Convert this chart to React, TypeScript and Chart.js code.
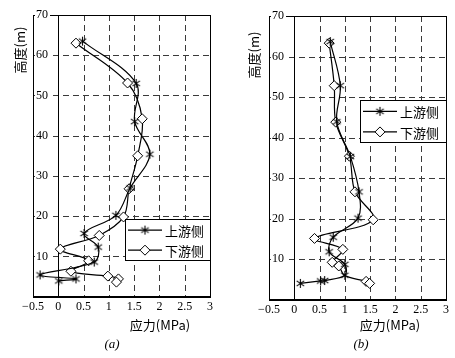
import React, { useEffect, useRef } from "react";
import { Chart, registerables } from "chart.js";

Chart.register(...registerables);

// ---- data ----
const heightTicks = [10, 20, 30, 40, 50, 60, 70];
const stressTicks = [-0.5, 0, 0.5, 1, 1.5, 2, 2.5, 3];
const seriesLabels = ["上游侧", "下游侧"];
const yTitle = "高度(m)";
const xTitle = "应力(MPa)";
const captions = ["(a)", "(b)"];

// panel (a)
const upA_stress = [0.48, 1.54, 1.51, 1.81, 1.42, 1.14, 0.51, 0.79, 0.71, -0.36, 0.35, 0.01];
const upA_height = [63.5, 53.0, 43.5, 35.4, 27.0, 20.2, 15.7, 12.3, 8.6, 5.4, 4.4, 3.9];
const downA_stress = [0.35, 1.37, 1.66, 1.57, 1.40, 1.29, 0.81, 0.04, 0.60, 0.25, 0.98, 1.19, 1.15];
const downA_height = [63.0, 53.1, 44.2, 35.0, 26.8, 19.8, 15.2, 11.8, 8.9, 6.3, 5.1, 4.4, 3.6];

// panel (b)
const upB_stress = [0.71, 0.91, 0.84, 1.11, 1.28, 1.26, 0.77, 0.69, 1.0, 1.0, 0.6, 0.52, 0.12];
const upB_height = [63.7, 52.8, 43.9, 35.3, 26.6, 20.1, 15.4, 11.8, 8.7, 6.0, 4.7, 4.6, 4.0];
const downB_stress = [0.69, 0.79, 0.82, 1.09, 1.2, 1.56, 0.4, 0.96, 0.75, 0.88, 0.99, 1.42, 1.49];
const downB_height = [63.3, 52.8, 43.8, 35.4, 26.6, 19.7, 15.1, 12.4, 9.2, 8.3, 6.0, 4.5, 4.0];
const downB_hidden = [10]; // index of a point that has no visible marker

const SERIF = "'Liberation Serif', 'DejaVu Serif', serif";
const CJK = "'Noto Sans CJK SC', sans-serif";

function makeAsterisk(): HTMLCanvasElement {
  const c = document.createElement("canvas");
  c.width = 11;
  c.height = 11;
  const g = c.getContext("2d")!;
  g.strokeStyle = "#000";
  g.lineWidth = 1.1;
  const cx = 5.5, cy = 5.5, r = 4.6;
  g.beginPath();
  for (const deg of [90, 35, -35]) {
    const a = (deg * Math.PI) / 180;
    g.moveTo(cx - r * Math.cos(a), cy - r * Math.sin(a));
    g.lineTo(cx + r * Math.cos(a), cy + r * Math.sin(a));
  }
  g.stroke();
  return c;
}

function drawDiamond(ctx: CanvasRenderingContext2D, x: number, y: number, r: number) {
  ctx.beginPath();
  ctx.moveTo(x, y - r);
  ctx.lineTo(x + r, y);
  ctx.lineTo(x, y + r);
  ctx.lineTo(x - r, y);
  ctx.closePath();
  ctx.fillStyle = "#fff";
  ctx.fill();
  ctx.strokeStyle = "#000";
  ctx.lineWidth = 1;
  ctx.stroke();
}

type PanelCfg = {
  up: { x: number[]; y: number[] };
  down: { x: number[]; y: number[]; hidden?: number[] };
  padding: { left: number; right: number; top: number; bottom: number };
  legend: { x: number; y: number; w: number; h: number };
  yTitlePos: [number, number];
  xTitlePos: [number, number];
  captionPos: [number, number];
  caption: string;
};

function zip(xs: number[], ys: number[]) {
  return xs.map((x, i) => ({ x, y: ys[i] }));
}

function fmt(v: number) {
  return v < 0 ? "−" + String(-v) : String(v);
}

function buildChart(canvas: HTMLCanvasElement, cfg: PanelCfg) {
  const star = makeAsterisk();
  const hidden = cfg.down.hidden || [];
  const decor = {
    id: "decor",
    beforeDraw(chart: any) {
      const { ctx, chartArea: a, scales } = chart;
      ctx.save();
      ctx.fillStyle = "#fff";
      ctx.fillRect(0, 0, chart.width, chart.height);
      // dashed grid
      ctx.strokeStyle = "#3a3a3a";
      ctx.lineWidth = 1;
      ctx.setLineDash([6, 4]);
      stressTicks.forEach((v) => {
        const px = Math.round(scales.x.getPixelForValue(v)) + 0.5;
        ctx.beginPath();
        ctx.moveTo(px, a.top);
        ctx.lineTo(px, a.bottom);
        ctx.stroke();
      });
      heightTicks.forEach((v) => {
        const py = Math.round(scales.y.getPixelForValue(v)) + 0.5;
        ctx.beginPath();
        ctx.moveTo(a.left, py);
        ctx.lineTo(a.right, py);
        ctx.stroke();
      });
      ctx.setLineDash([]);
      // solid frame and zero line
      ctx.strokeStyle = "#000";
      const l = Math.round(a.left) + 0.5, r = Math.round(a.right) + 0.5;
      const t = Math.round(a.top) + 0.5, b = Math.round(a.bottom) + 0.5;
      ctx.strokeRect(l, t, r - l, b - t);
      const x0 = Math.round(scales.x.getPixelForValue(0)) + 0.5;
      ctx.beginPath();
      ctx.moveTo(x0, a.top);
      ctx.lineTo(x0, a.bottom);
      ctx.stroke();
      ctx.restore();
    },
    afterDatasetsDraw(chart: any) {
      const { ctx } = chart;
      const L = cfg.legend;
      ctx.save();
      ctx.fillStyle = "#fff";
      ctx.fillRect(L.x, L.y, L.w, L.h);
      ctx.strokeStyle = "#000";
      ctx.lineWidth = 1;
      ctx.strokeRect(L.x + 0.5, L.y + 0.5, L.w, L.h);
      const rows = [L.y + L.h * 0.27, L.y + L.h * 0.76];
      rows.forEach((ry, i) => {
        ctx.strokeStyle = "#000";
        ctx.lineWidth = 1.2;
        ctx.beginPath();
        ctx.moveTo(L.x + 3, ry);
        ctx.lineTo(L.x + 37, ry);
        ctx.stroke();
        const mx = L.x + 20;
        if (i === 0) ctx.drawImage(star, mx - 5.5, ry - 5.5);
        else drawDiamond(ctx, mx, ry, 5);
        ctx.fillStyle = "#000";
        ctx.font = "13px " + CJK;
        ctx.textAlign = "left";
        ctx.textBaseline = "middle";
        ctx.fillText(seriesLabels[i], L.x + 40, ry + 1);
      });
      ctx.restore();
    },
    afterDraw(chart: any) {
      const { ctx } = chart;
      ctx.save();
      ctx.fillStyle = "#000";
      ctx.textAlign = "center";
      ctx.textBaseline = "middle";
      ctx.font = "13px " + CJK;
      ctx.save();
      ctx.translate(cfg.yTitlePos[0], cfg.yTitlePos[1]);
      ctx.rotate(-Math.PI / 2);
      ctx.fillText(yTitle, 0, 0);
      ctx.restore();
      ctx.fillText(xTitle, cfg.xTitlePos[0], cfg.xTitlePos[1]);
      ctx.font = "italic 13px " + SERIF;
      ctx.fillText(cfg.caption, cfg.captionPos[0], cfg.captionPos[1]);
      ctx.restore();
    },
  };

  return new Chart(canvas, {
    type: "scatter",
    data: {
      datasets: [
        {
          label: seriesLabels[0],
          data: zip(cfg.up.x, cfg.up.y),
          showLine: true,
          tension: 0.35,
          borderColor: "#000",
          borderWidth: 1.2,
          pointStyle: star as any,
          pointRadius: 5,
          backgroundColor: "#000",
        },
        {
          label: seriesLabels[1],
          data: zip(cfg.down.x, cfg.down.y),
          showLine: true,
          tension: 0.35,
          borderColor: "#000",
          borderWidth: 1.2,
          pointStyle: "rectRot",
          pointRadius: cfg.down.x.map((_, i) => (hidden.includes(i) ? 0 : 5)),
          pointBorderWidth: 1,
          pointBorderColor: "#000",
          pointBackgroundColor: "#fff",
        },
      ],
    },
    options: {
      responsive: false,
      animation: false,
      devicePixelRatio: 1,
      layout: { padding: cfg.padding },
      plugins: { legend: { display: false }, tooltip: { enabled: false } },
      scales: {
        x: {
          type: "linear",
          min: -0.5,
          max: 3,
          afterBuildTicks: (s: any) => {
            s.ticks = stressTicks.map((v) => ({ value: v }));
          },
          ticks: {
            padding: 3,
            color: "#000",
            autoSkip: false,
            maxRotation: 0,
            font: { family: SERIF, size: 12 },
            callback: (v: any) => fmt(Number(v)),
          },
          grid: { display: false, drawTicks: false },
          border: { display: true, color: "#000", width: 1 },
        },
        y: {
          type: "linear",
          min: 0,
          max: 70,
          afterBuildTicks: (s: any) => {
            s.ticks = heightTicks.map((v) => ({ value: v }));
          },
          ticks: {
            mirror: true,
            padding: 3,
            color: "#000",
            font: { family: SERIF, size: 12 },
            showLabelBackdrop: true,
            backdropColor: "#fff",
            backdropPadding: { top: 0, bottom: 0, left: 1, right: 2 },
          },
          grid: { display: false, drawTicks: false },
          border: { display: true, color: "#000", width: 1 },
        },
      },
    } as any,
    plugins: [decor],
  });
}

function Panel({ cfg, width }: { cfg: PanelCfg; width: number }) {
  const ref = useRef<HTMLCanvasElement>(null);
  useEffect(() => {
    const chart = buildChart(ref.current!, cfg);
    return () => chart.destroy();
  }, []);
  return <canvas ref={ref} width={width} height={358} style={{ display: "block", width, height: 358 }} />;
}

const panelA: PanelCfg = {
  up: { x: upA_stress, y: upA_height },
  down: { x: downA_stress, y: downA_height },
  padding: { left: 27, right: 18, top: 15, bottom: 41 },
  legend: { x: 125, y: 219, w: 85, h: 41 },
  yTitlePos: [20, 50],
  xTitlePos: [160, 325],
  captionPos: [112, 345],
  caption: captions[0],
};

const panelB: PanelCfg = {
  up: { x: upB_stress, y: upB_height },
  down: { x: downB_stress, y: downB_height, hidden: downB_hidden },
  padding: { left: 35, right: 9, top: 16, bottom: 38 },
  legend: { x: 132, y: 100, w: 86, h: 42 },
  yTitlePos: [26, 55],
  xTitlePos: [162, 325],
  captionPos: [133, 345],
  caption: captions[1],
};

export default function App() {
  return (
    <div style={{ position: "absolute", left: 0, top: 0, width: 455, height: 358, display: "flex", background: "#fff" }}>
      <Panel cfg={panelA} width={228} />
      <Panel cfg={panelB} width={227} />
    </div>
  );
}
